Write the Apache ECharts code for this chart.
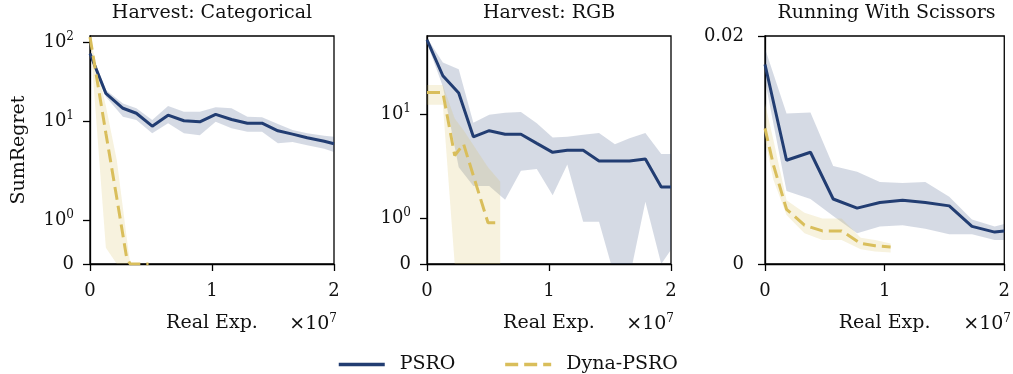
<!DOCTYPE html>
<html>
<head>
<meta charset="utf-8">
<script src="https://cdn.jsdelivr.net/npm/echarts@6/dist/echarts.min.js"></script>
<style>
  html, body { margin: 0; background: #fff; }
  #chart { width: 1013px; height: 374px; }
</style>
</head>
<body>
<div id="chart"></div>
<script>
const FONT = 'DejaVu Serif'
const PSRO_COLOR = '#223d72'
const DYNA_COLOR = '#d9be5b'
const PSRO_FILL = 'rgba(34, 61, 114, 0.19)'
const DYNA_FILL = 'rgba(217, 190, 91, 0.2)'

const titles = ['Harvest: Categorical', 'Harvest: RGB', 'Running With Scissors']
const xTicks = [0, 1, 2] // ×1e7
const logTicks = [1, 10, 100]
const rwsTicks = [0, 0.02]

// Harvest: Categorical
const catX = [0, 0.13, 0.27, 0.38, 0.51, 0.64, 0.77, 0.9, 1.03, 1.16, 1.29, 1.41, 1.54, 1.66, 1.78, 1.92, 2.0]
const catPsro = [73, 22.7, 14.7, 12.7, 8.7, 12.0, 10.2, 9.9, 12.3, 10.6, 9.5, 9.5, 7.6, 6.9, 6.2, 5.6, 5.2]
const catPsroHi = [80, 25, 16.9, 14.7, 10.4, 15.7, 13.3, 13.3, 15.1, 14.7, 11.5, 11.3, 9.3, 7.8, 7.1, 6.6, 6.4]
const catPsroLo = [66, 20.6, 11.5, 10.4, 7.1, 9.5, 7.1, 6.7, 9.9, 8.2, 7.4, 7.4, 5.3, 5.5, 5.0, 4.5, 4.1]
const catDynaX = [0, 0.13, 0.22, 0.3, 0.33, 0.48]
const catDyna = [118, 7.1, 1.5, 0.15, 0, 0]
const catDynaHi = [118, 15.7, 3.2, 0.62, 0, 0]
const catDynaLo = [118, 0.37, 0, 0, 0, 0]

// Harvest: RGB
const rgbX = [0, 0.13, 0.26, 0.38, 0.51, 0.64, 0.77, 0.9, 1.03, 1.15, 1.28, 1.41, 1.54, 1.66, 1.79, 1.92, 2.0]
const rgbPsro = [81, 29.7, 18.3, 5.4, 6.4, 5.8, 5.8, 4.5, 3.5, 3.7, 3.7, 2.75, 2.75, 2.75, 2.9, 1.68, 1.68]
const rgbPsroHi = [85, 43, 35.7, 8.0, 10, 10.6, 10.8, 7.9, 5.3, 5.4, 5.7, 6.0, 4.4, 5.2, 6.0, 3.35, 3.35]
const rgbPsroLo = [74, 22, 2.3, 1.7, 1.7, 1.4, 2.1, 2.2, 1.5, 2.5, 0.92, 0.92, -0.3, -0.3, 1.36, 0, 0.31]
const rgbDynaX = [0, 0.13, 0.227, 0.3, 0.5, 0.6]
const rgbDyna = [18.6, 18.6, 3.2, 4.4, 0.9, 0.9]
const rgbDynaHi = [23, 23, 9, 6.5, 2.3, 1.8]
const rgbDynaLo = [13.2, 13.2, 0, 0, 0, 0]

// Running With Scissors
const rwsX = [0, 0.18, 0.38, 0.57, 0.77, 0.96, 1.15, 1.34, 1.54, 1.73, 1.92, 2.0]
const rwsPsro = [0.0175, 0.0091, 0.0098, 0.0057, 0.0049, 0.0054, 0.0056, 0.0054, 0.0051, 0.0033, 0.0028, 0.0029]
const rwsPsroHi = [0.0189, 0.0132, 0.0133, 0.0086, 0.0081, 0.0072, 0.0071, 0.0072, 0.0059, 0.0039, 0.0033, 0.0035]
const rwsPsroLo = [0.0161, 0.0064, 0.0057, 0.0042, 0.0027, 0.0033, 0.0034, 0.0031, 0.0026, 0.0026, 0.0021, 0.0021]
const rwsDynaX = [0, 0.07, 0.18, 0.33, 0.48, 0.64, 0.8, 0.92, 1.05]
const rwsDyna = [0.0119, 0.0087, 0.0048, 0.0034, 0.0029, 0.0029, 0.0018, 0.0016, 0.0015]
const rwsDynaHi = [0.0141, 0.0109, 0.0056, 0.0045, 0.0040, 0.0040, 0.0023, 0.0021, 0.0018]
const rwsDynaLo = [0.0109, 0.0074, 0.0043, 0.0027, 0.0021, 0.0021, 0.0013, 0.0011, 0.0010]

// symlog like matplotlib (linthresh 2, linscale 1, base 10)
const LT = 2
const LS = 1 / (1 - 1 / 10)
function symlog(v) {
  const a = Math.abs(v)
  const t = a <= LT ? a * LS : LT * (LS + Math.log10(a / LT))
  return v < 0 ? -t : t
}
const linear = v => v

const panels = [
  { x: catX, psro: catPsro, lo: catPsroLo, hi: catPsroHi, dx: catDynaX, dyna: catDyna, dlo: catDynaLo, dhi: catDynaHi, f: symlog },
  { x: rgbX, psro: rgbPsro, lo: rgbPsroLo, hi: rgbPsroHi, dx: rgbDynaX, dyna: rgbDyna, dlo: rgbDynaLo, dhi: rgbDynaHi, f: symlog },
  { x: rwsX, psro: rwsPsro, lo: rwsPsroLo, hi: rwsPsroHi, dx: rwsDynaX, dyna: rwsDyna, dlo: rwsDynaLo, dhi: rwsDynaHi, f: linear },
]

const grids = [
  { left: 90, top: 36, width: 244, height: 228 },
  { left: 427, top: 36, width: 244, height: 228 },
  { left: 765, top: 36, width: 243, height: 228 },
]

const textBase = { fontFamily: FONT, fontSize: 19, color: '#111' }
const tickText = { fontFamily: FONT, fontSize: 18, color: '#111' }
const supRich = { s: { fontFamily: FONT, fontSize: 12, color: '#111', padding: [0, 0, 11, 0] } }

function logLabel(v) {
  if (Math.abs(v) < 1e-9) return '0'
  for (const t of logTicks) {
    if (Math.abs(symlog(t) - v) < 1e-6) return '10{s|' + Math.round(Math.log10(t)) + '}'
  }
  return ''
}

const axisCommon = {
  axisLine: { show: true, onZero: false, lineStyle: { color: '#000', width: 1.3 } },
  axisTick: { show: true, length: 7, lineStyle: { color: '#000', width: 1.3 } },
  splitLine: { show: false },
}

const xAxis = grids.map((g, i) => ({
  ...axisCommon,
  type: 'value',
  gridIndex: i,
  min: xTicks[0],
  max: xTicks[xTicks.length - 1],
  interval: 1,
  name: 'Real Exp.',
  nameLocation: 'middle',
  nameGap: 50,
  nameTextStyle: textBase,
  axisLabel: { ...tickText, margin: 18, formatter: v => String(v) },
}))

const yMax = [5.79, 5.53]
const yAxis = grids.map((g, i) => {
  if (i < 2) {
    const ticks = [0, ...logTicks].map(symlog).filter(t => t <= yMax[i] + 1e-9)
    return {
      ...axisCommon,
      type: 'value',
      gridIndex: i,
      min: 0,
      max: yMax[i],
      name: i === 0 ? 'SumRegret' : '',
      nameLocation: 'middle',
      nameGap: 61,
      nameTextStyle: textBase,
      axisTick: { ...axisCommon.axisTick, customValues: ticks },
      axisLabel: { ...tickText, margin: 16, customValues: ticks, formatter: logLabel, rich: supRich },
    }
  }
  return {
    ...axisCommon,
    type: 'value',
    gridIndex: i,
    min: rwsTicks[0],
    max: rwsTicks[1],
    interval: 0.02,
    axisLabel: { ...tickText, margin: 21, formatter: v => (v === 0 ? '0' : '0.02') },
  }
})

// shaded band between lo and hi, drawn as one polygon through the axes' coords
function band(name, i, xs, lo, hi, f, fill) {
  return {
    type: 'custom',
    name,
    xAxisIndex: i,
    yAxisIndex: i,
    silent: true,
    z: 1,
    data: [[xs[0], f(lo[0])]],
    renderItem: (params, api) => {
      const top = xs.map((x, k) => api.coord([x, f(hi[k])]))
      const bottom = xs.map((x, k) => api.coord([x, f(lo[k])])).reverse()
      const cs = params.coordSys
      return {
        type: 'polygon',
        shape: { points: top.concat(bottom) },
        style: { fill, stroke: null },
        clipPath: { type: 'rect', shape: { x: cs.x, y: cs.y, width: cs.width, height: cs.height } },
      }
    },
  }
}

function line(name, i, xs, ys, f, color, dashed) {
  return {
    type: 'line',
    name,
    xAxisIndex: i,
    yAxisIndex: i,
    symbol: 'none',
    data: xs.map((x, k) => [x, f(ys[k])]),
    lineStyle: { color, width: 3, type: dashed ? [13, 6] : 'solid' },
    itemStyle: { color },
    z: dashed ? 4 : 3,
  }
}

const series = []
panels.forEach((p, i) => {
  series.push(band('PSRO band', i, p.x, p.lo, p.hi, p.f, PSRO_FILL))
  series.push(band('Dyna band', i, p.dx, p.dlo, p.dhi, p.f, DYNA_FILL))
  series.push(line('PSRO', i, p.x, p.psro, p.f, PSRO_COLOR, false))
  series.push(line('Dyna-PSRO', i, p.dx, p.dyna, p.f, DYNA_COLOR, true))
})

const chart = echarts.init(document.getElementById('chart'), null, { renderer: 'canvas' })
chart.setOption({
  animation: false,
  backgroundColor: '#fff',
  title: titles.map((t, i) => ({
    text: t,
    left: grids[i].left + grids[i].width / 2,
    top: 4,
    padding: 0,
    textAlign: 'center',
    textStyle: { ...textBase, fontWeight: 'normal' },
  })),
  grid: grids.map(g => ({ ...g, show: true, borderColor: '#000', borderWidth: 1.3, backgroundColor: 'transparent' })),
  xAxis,
  yAxis,
  legend: {
    data: ['PSRO', 'Dyna-PSRO'],
    left: 337,
    top: 355,
    padding: 0,
    itemWidth: 46,
    itemHeight: 14,
    itemGap: 48,
    itemStyle: { opacity: 0 },
    lineStyle: { width: 3.5 },
    textStyle: { ...textBase, padding: [0, 0, 0, 10] },
  },
  graphic: grids.map(g => ({
    type: 'text',
    x: g.left + g.width + 3,
    y: 324,
    style: {
      text: '×10{s|7}',
      align: 'right',
      verticalAlign: 'middle',
      font: '19px "DejaVu Serif"',
      fill: '#111',
      rich: supRich,
    },
  })),
  series,
})
</script>
</body>
</html>
